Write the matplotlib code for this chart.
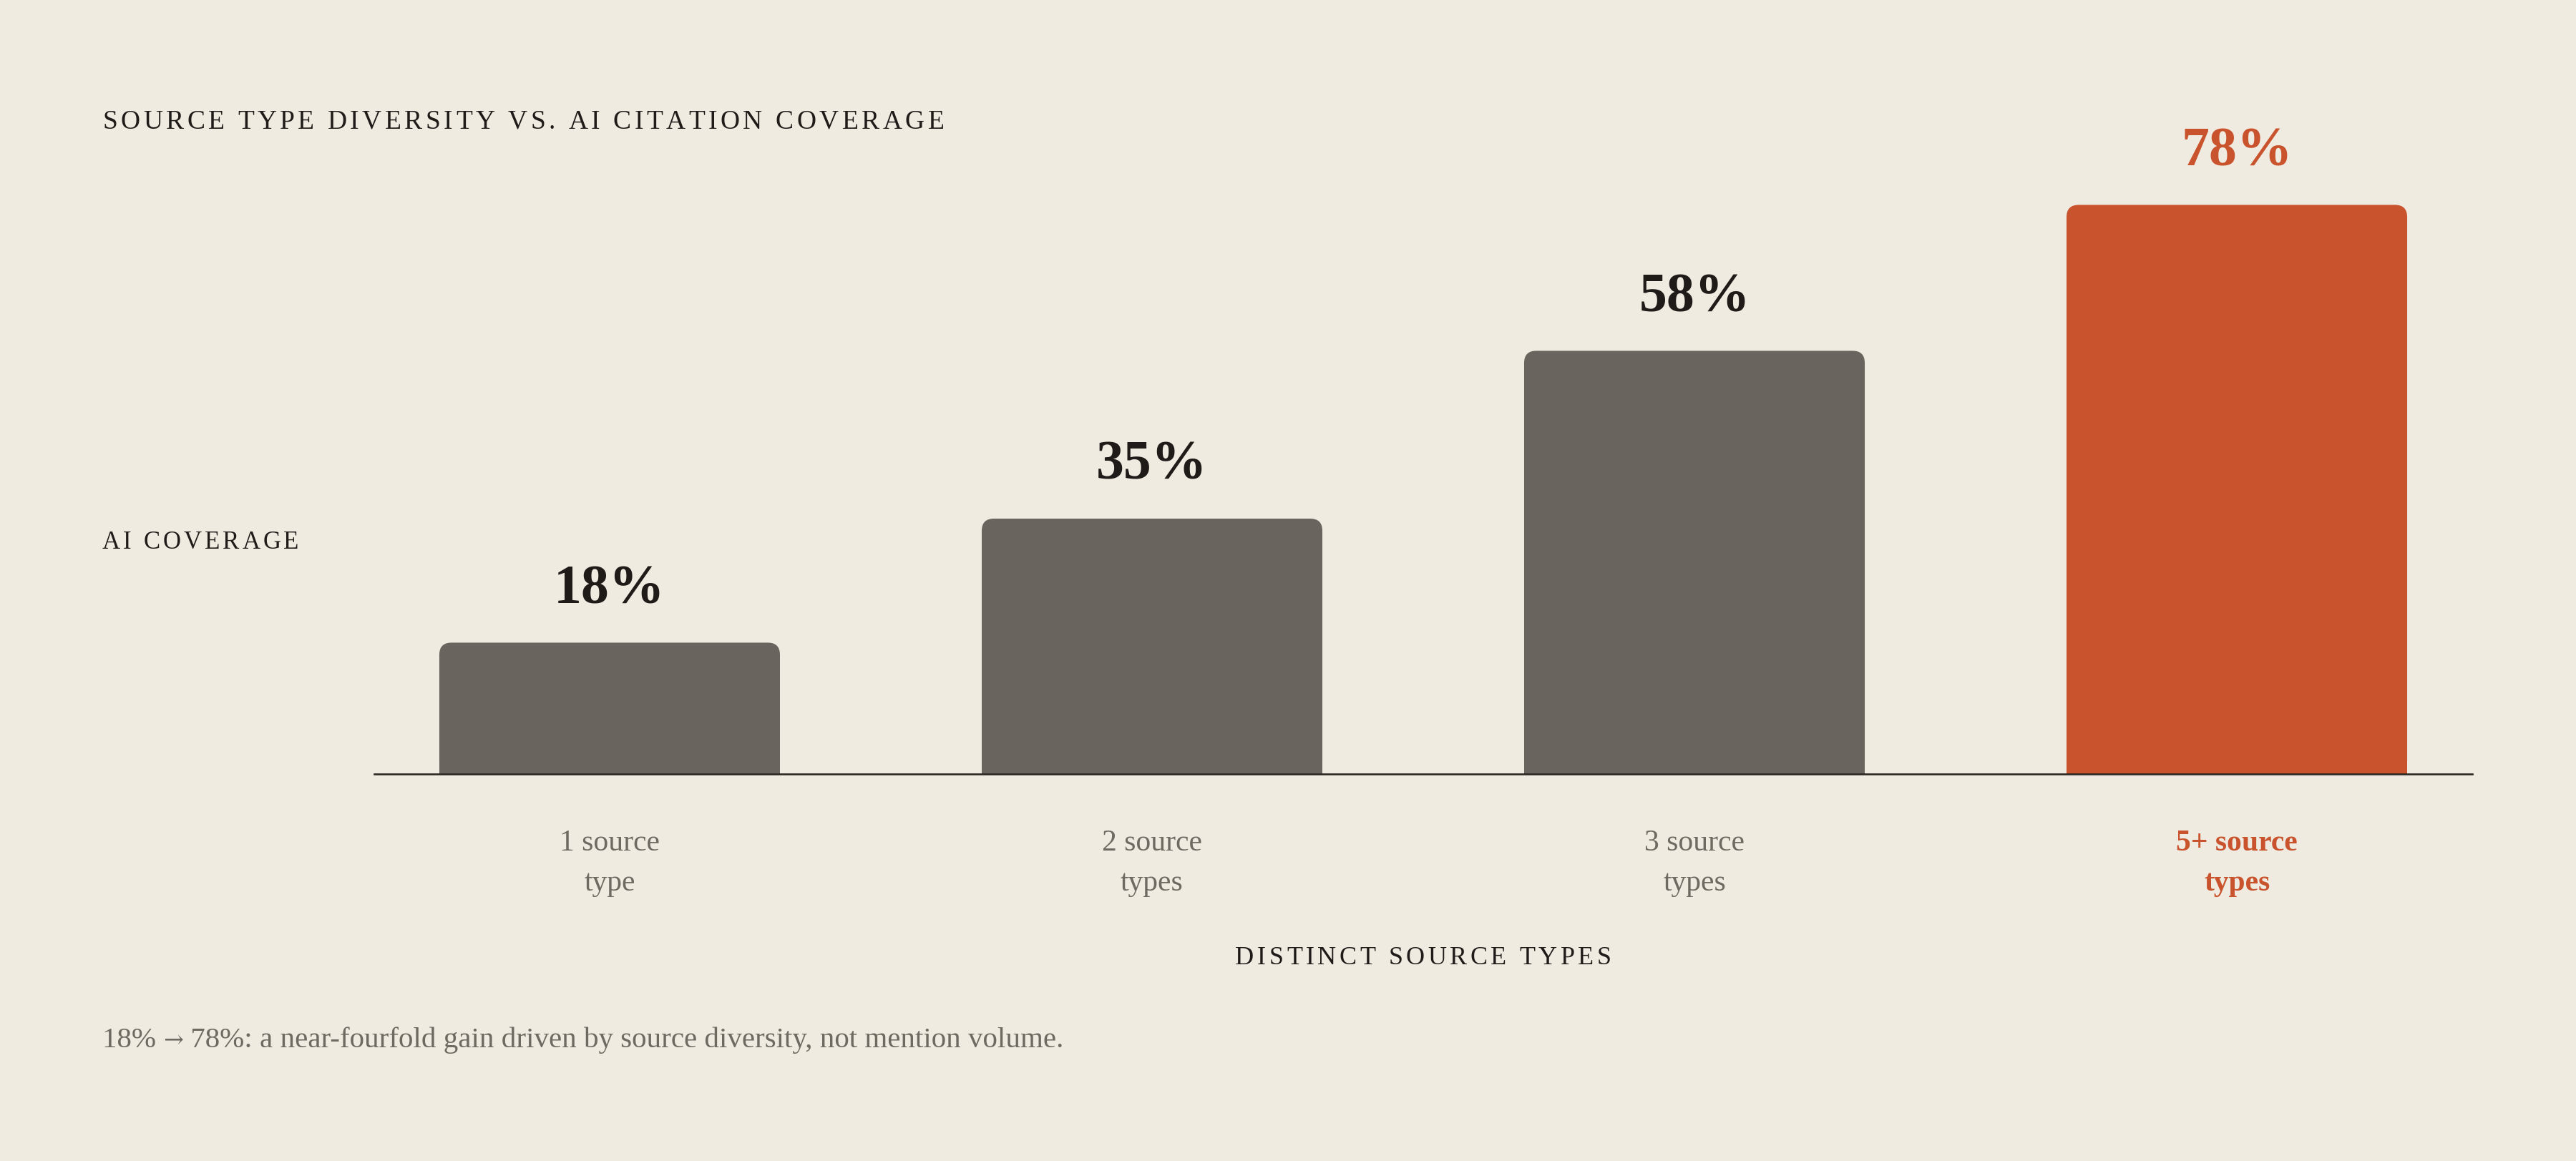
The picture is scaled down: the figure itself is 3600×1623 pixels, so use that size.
import matplotlib
matplotlib.use("Agg")
import matplotlib.pyplot as plt
from matplotlib.patches import FancyBboxPatch, Rectangle
from matplotlib.font_manager import FontProperties, findfont, get_font

# data
categories = ["1 source\ntype", "2 source\ntypes", "3 source\ntypes", "5+ source\ntypes"]
coverage = [18, 35, 58, 78]
value_labels = ["18%", "35%", "58%", "78%"]
highlight = [False, False, False, True]

title = "SOURCE TYPE DIVERSITY VS. AI CITATION COVERAGE"
y_title = "AI COVERAGE"
x_title = "DISTINCT SOURCE TYPES"
note_parts = ["18% ", "\u2192", " 78%: a near-fourfold gain driven by source diversity, not mention volume."]

BG = "#f0ebe1"
GREY_BAR = "#69655e"
ORANGE = "#c8532c"
INK = "#1e1b18"
MUTED = "#6e6961"
FAMILY = ["Liberation Serif", "DejaVu Serif"]

W, H, DPI = 3600, 1623, 100
plt.rcParams["font.family"] = FAMILY

fig = plt.figure(figsize=(W / DPI, H / DPI), dpi=DPI, facecolor=BG)


def fx(x):
    return x / W


def fy(y):
    return 1 - y / H


def advances(s, prop):
    font = get_font(findfont(prop))
    font.set_size(prop.get_size_in_points(), DPI)
    return [font.load_char(ord(ch)).linearHoriAdvance / 65536 for ch in s]


def spaced_text(x, y, s, size, track, color, ha="left"):
    # matplotlib has no letter-spacing, so place glyphs one by one
    prop = FontProperties(family=FAMILY[0], size=size)
    adv = advances(s, prop)
    total = sum(adv) + track * (len(s) - 1)
    x0 = x - total / 2 if ha == "center" else x
    for ch, a in zip(s, adv):
        if ch != " ":
            fig.text(fx(x0), fy(y), ch, fontproperties=prop, color=color,
                     ha="left", va="baseline")
        x0 += a + track


ax = fig.add_axes([523 / W, 1 - 1082 / H, (3455 - 523) / W, (1082 - 62) / H])
ax.set_facecolor(BG)
ax.set_xlim(-0.434, 3.434)
ax.set_ylim(0, 100)

# rounded top corners: radius in pixels converted to data units
px_x = ax.transData.transform((1, 0))[0] - ax.transData.transform((0, 0))[0]
px_y = ax.transData.transform((0, 1))[1] - ax.transData.transform((0, 0))[1]
radius_px = 17
rx = radius_px / px_x
aspect = px_x / px_y
bar_w = 0.628

for i, (v, hl) in enumerate(zip(coverage, highlight)):
    c = ORANGE if hl else GREY_BAR
    ax.add_patch(FancyBboxPatch((i - bar_w / 2, 0), bar_w, v,
                                boxstyle=f"round,pad=0,rounding_size={rx}",
                                mutation_aspect=aspect, fc=c, ec="none", zorder=2))
    ax.add_patch(Rectangle((i - bar_w / 2, 0), bar_w, v / 2, fc=c, ec="none", zorder=2))
    ax.annotate(value_labels[i], xy=(i, v), xytext=(0, 55), textcoords="offset pixels",
                ha="center", va="baseline", fontsize=56, fontweight="bold",
                color=ORANGE if hl else INK)
    for j, line in enumerate(categories[i].split("\n")):
        ax.annotate(line, xy=(i, 0), xytext=(0, -107 - 56 * j), textcoords="offset pixels",
                    ha="center", va="baseline", fontsize=30,
                    fontweight="bold" if hl else "normal",
                    color=ORANGE if hl else MUTED, annotation_clip=False)

for side in ["top", "left", "right"]:
    ax.spines[side].set_visible(False)
ax.spines["bottom"].set_color("#2a2622")
ax.spines["bottom"].set_linewidth(1.9)
ax.spines["bottom"].set_zorder(3)
ax.set_xticks([])
ax.set_yticks([])

spaced_text(143, 180, title, 27, 4.5, INK)
spaced_text(143, 767, y_title, 25, 4.0, INK)
spaced_text((523 + 3455) / 2, 1348, x_title, 26, 4.5, INK, ha="center")

# footnote: the arrow is taken from DejaVu Serif, which centres it on the x-height
x0 = 143
for k, part in enumerate(note_parts):
    fam = "DejaVu Serif" if k == 1 else FAMILY[0]
    size = 24 if k == 1 else 29.5
    prop = FontProperties(family=fam, size=size)
    fig.text(fx(x0), fy(1464), part, fontproperties=prop, color=MUTED,
             ha="left", va="baseline")
    x0 += sum(advances(part, prop))

fig.savefig("out.png", dpi=DPI, facecolor=BG)
